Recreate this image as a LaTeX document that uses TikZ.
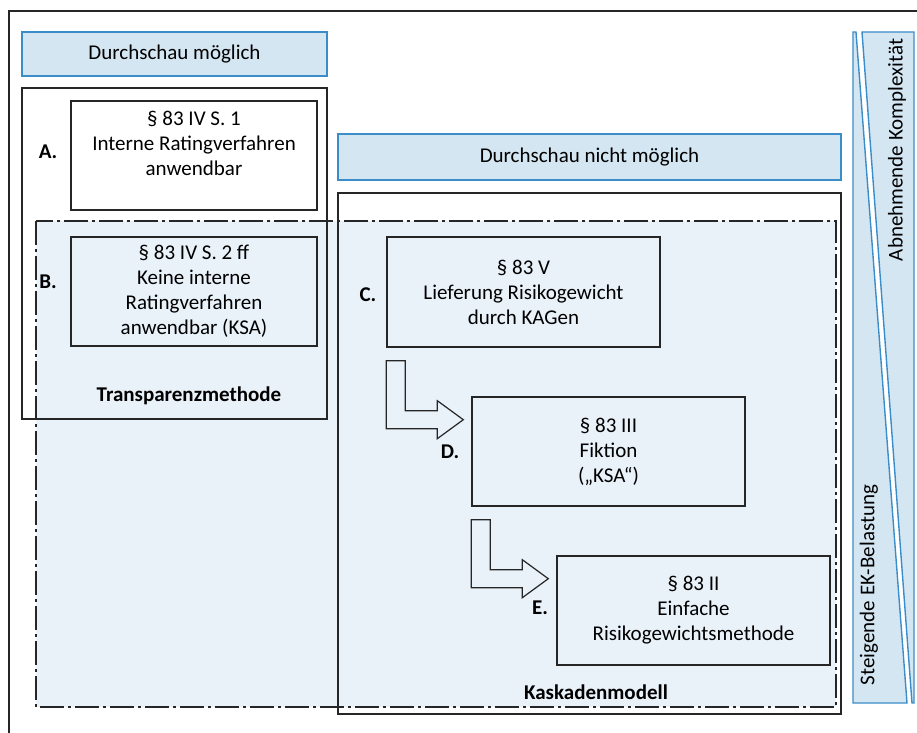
\documentclass[tikz,border=0pt]{standalone}
\usepackage{fontspec}
\setmainfont{Carlito}
\usetikzlibrary{positioning,calc}

\definecolor{bandfill}{HTML}{D5E6F3}
\definecolor{bandline}{HTML}{3A8DC8}
\definecolor{areafill}{HTML}{E9F1F9}

\tikzset{
  rulebox/.style={draw=black!85, line width=0.7pt, align=center, inner sep=0pt},
  headbox/.style={draw=bandline, fill=bandfill, line width=0.7pt, inner sep=0pt},
  marker/.style={font=\fontsize{10.5}{12.5}\selectfont\bfseries},
  blockarrow/.style={draw=black!85, fill=areafill, line width=0.6pt},
  dashdot/.style={draw=black!85, line width=0.7pt, dash pattern=on 12pt off 2pt on 1.5pt off 2pt},
}

\newcommand\cascadearrow[1]{%
  \draw[blockarrow] (#1) -- ++(19,0) -- ++(0,50) -- ++(32,0) -- ++(0,-10)
    -- ++(26,19) -- ++(-26,19) -- ++(0,-10) -- ++(-51,0) -- cycle;}

\begin{document}
\begin{tikzpicture}[x=0.5pt, y=-0.5pt, font=\fontsize{10.5}{12.5}\selectfont]
  \useasboundingbox (0,0) rectangle (917,733);

  % frame, runs off the page
  \draw[black!85, line width=0.7pt] (9,733) -- (9,11) -- (917,11);

  % headers
  \node[headbox, minimum width=152.5pt, minimum height=22pt] (mitdurch) at (174.5,54) {Durchschau möglich};
  \node[headbox, minimum width=251.5pt, minimum height=23pt] (ohnedurch) at (589.5,157) {Durchschau nicht möglich};

  % shaded area
  \path[dashdot, fill=areafill] (36,221) rectangle (836,707);

  % the two methods
  \node[rulebox, minimum width=152.5pt, minimum height=165.5pt] (transp) at (174.5,253.5) {};
  \node[rulebox, minimum width=251.5pt, minimum height=260.5pt] (kaskade) at (589.5,453.5) {};
  \node[font=\fontsize{10.5}{12.5}\selectfont\bfseries] (transptext) at (189,396) {Transparenzmethode};
  \node[font=\fontsize{10.5}{12.5}\selectfont\bfseries] (kaskadetext) at (596,692) {Kaskadenmodell};

  % cases A--E
  \node[rulebox, fill=white, minimum width=123pt, minimum height=54.5pt] (A) at (194,155.5) {};
  \node[align=center] (Atext) at (194,143) {§ 83 IV S. 1\\Interne Ratingverfahren\\anwendbar};
  \node[rulebox, minimum width=123pt, minimum height=54.5pt] (B) at (194,291.5)
    {§ 83 IV S. 2 ff\\Keine interne\\Ratingverfahren\\anwendbar (KSA)};
  \node[rulebox, minimum width=136.5pt, minimum height=55pt] (C) at (523.5,292)
    {§ 83 V\\Lieferung Risikogewicht\\durch KAGen};
  \node[rulebox, minimum width=136.5pt, minimum height=54.5pt] (D) at (608.5,451.5)
    {§ 83 III\\Fiktion\\(„KSA“)};
  \node[rulebox, minimum width=136.5pt, minimum height=54.5pt] (E) at (693.5,610.5)
    {§ 83 II\\Einfache\\Risikogewichtsmethode};

  \node[marker] (Amark) at (48,152) {A.};
  \node[marker] (Bmark) at (48,282) {B.};
  \node[marker] (Cmark) at (368,295) {C.};
  \node[marker] (Dmark) at (450,452) {D.};
  \node[marker] (Emark) at (540,608) {E.};

  \coordinate (CtoD) at ($(C.south west)+(0,13)$);
  \coordinate (DtoE) at ($(D.south west)+(0,13)$);
  \cascadearrow{CtoD}
  \cascadearrow{DtoE}

  % side bands
  \filldraw[fill=bandfill, draw=bandline, line width=0.7pt] (853,32) -- (856,32) -- (907,703) -- (853,703) -- cycle;
  \filldraw[fill=bandfill, draw=bandline, line width=0.7pt] (862,32) -- (914,32) -- (914,703) -- (912,703) -- cycle;
  \node[rotate=90] (komplex) at (897,150) {Abnehmende Komplexität};
  \node[rotate=90] (belastung) at (869,585) {Steigende EK-Belastung};
\end{tikzpicture}
\end{document}
